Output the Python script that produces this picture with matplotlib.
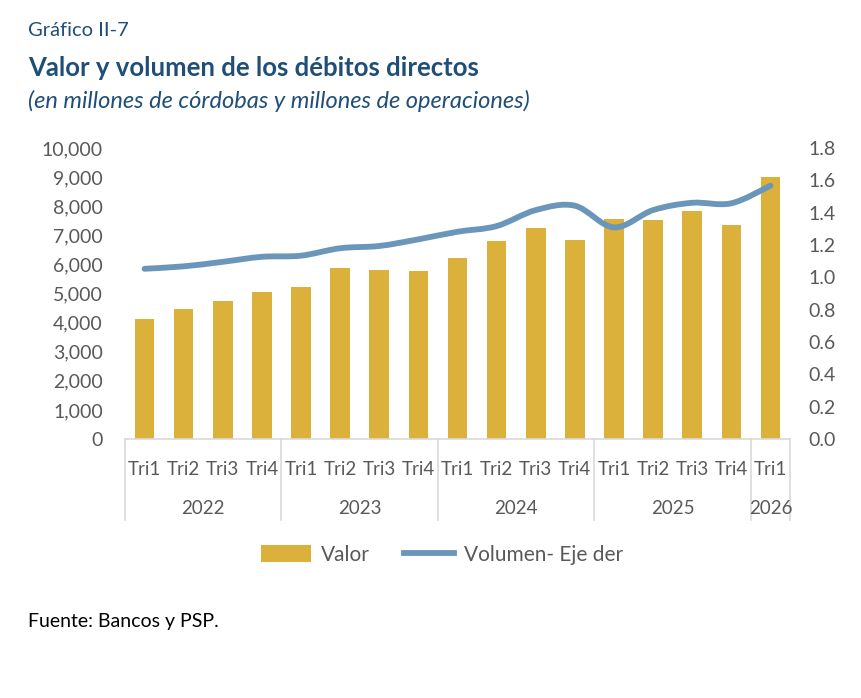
import matplotlib
matplotlib.use("Agg")
import matplotlib.pyplot as plt
from matplotlib.path import Path
from matplotlib.patches import PathPatch, Patch
from matplotlib.lines import Line2D
from matplotlib.ticker import FuncFormatter, FixedLocator
import matplotlib.transforms as mtrans
import numpy as np

plt.rcParams['font.family'] = ['Lato', 'DejaVu Sans']

quarters = ["Tri1", "Tri2", "Tri3", "Tri4"] * 4 + ["Tri1"]
years = ["2022", "2023", "2024", "2025", "2026"]
year_sizes = [4, 4, 4, 4, 1]
valor = [4110, 4480, 4750, 5050, 5210, 5870, 5820, 5770, 6210,
         6810, 7260, 6850, 7560, 7530, 7840, 7340, 9010]
volumen = [1.053, 1.068, 1.096, 1.127, 1.134, 1.180, 1.194, 1.235, 1.282,
           1.317, 1.416, 1.443, 1.309, 1.416, 1.461, 1.458, 1.567]

GOLD = "#DBB13B"
BLUE = "#6A96BA"
TXT = "#595959"
TITLE = "#1F4E79"
GRID = "#D9D9D9"

fig = plt.figure(figsize=(8.62, 6.98), dpi=100)
ax = fig.add_axes([125/862, 1-439/698, 665/862, 291/698])
ax2 = ax.twinx()

x = np.arange(len(valor))
ax.bar(x, valor, width=0.5, color=GOLD, zorder=2)
ax.set_xlim(-0.5, len(valor)-0.5)
ax.set_ylim(0, 10000)
ax.yaxis.set_major_locator(FixedLocator(np.arange(0, 10001, 1000)))
ax.yaxis.set_major_formatter(FuncFormatter(lambda v, p: f"{int(v):,}"))
ax2.set_ylim(0, 1.8)
ax2.yaxis.set_major_locator(FixedLocator(np.arange(0, 1.81, 0.2)))
ax2.yaxis.set_major_formatter(FuncFormatter(lambda v, p: f"{v:.1f}"))

for a in (ax, ax2):
    for s in a.spines.values():
        s.set_visible(False)
ax.spines['bottom'].set_visible(True)
ax.spines['bottom'].set_color(GRID)
ax.spines['bottom'].set_linewidth(1.2)

ax.tick_params(axis='y', length=0, pad=16, labelsize=14, labelcolor=TXT)
ax2.tick_params(axis='y', length=0, pad=13, labelsize=14, labelcolor=TXT)
ax.set_xticks(x)
ax.set_xticklabels(quarters)
ax.tick_params(axis='x', length=0, pad=16, labelsize=13.5, labelcolor=TXT)

# smooth line (Catmull-Rom style bezier as in Excel smoothed lines)
pts = np.column_stack([x, volumen]).astype(float)
verts = [tuple(pts[0])]
codes = [Path.MOVETO]
n = len(pts)
for i in range(n-1):
    p0 = pts[i-1] if i > 0 else pts[i]
    p1 = pts[i]
    p2 = pts[i+1]
    p3 = pts[i+2] if i+2 < n else pts[i+1]
    c1 = p1 + (p2 - p0) / 6.0
    c2 = p2 - (p3 - p1) / 6.0
    verts += [tuple(c1), tuple(c2), tuple(p2)]
    codes += [Path.CURVE4]*3
path = Path(verts, codes)
ax2.add_patch(PathPatch(path, facecolor='none', edgecolor=BLUE, lw=4.2,
                        capstyle='round', joinstyle='round', zorder=3))

# category bracket lines and year labels
trans = mtrans.blended_transform_factory(ax.transData, ax.transAxes)
bounds = np.concatenate([[0], np.cumsum(year_sizes)]) - 0.5
for b in bounds:
    ax.plot([b, b], [0, -81/291], transform=trans, color=GRID, lw=1.2,
            clip_on=False, zorder=1)
for i, yr in enumerate(years):
    c = (bounds[i] + bounds[i+1]) / 2
    ax.text(c, -69/291, yr, transform=trans, ha='center', va='center',
            fontsize=13.5, color=TXT)

# titles
fig.text(28/862, 1-30/698, "Gráfico II-7", fontsize=14.5, color=TITLE,
         va='center', ha='left')
fig.text(28/862, 1-68/698, "Valor y volumen de los débitos directos",
         fontsize=18.5, color=TITLE, fontweight='bold', va='center', ha='left')
fig.text(28/862, 1-101/698, "(en millones de córdobas y millones de operaciones)",
         fontsize=17, color=TITLE, style='italic', va='center', ha='left')
fig.text(28/862, 1-621/698, "Fuente: Bancos y PSP.", fontsize=14,
         color="#000000", va='center', ha='left')

handles = [Patch(facecolor=GOLD, edgecolor='none'),
           Line2D([0], [0], color=BLUE, lw=4.2)]
fig.legend(handles, ["Valor", "Volumen- Eje der"], loc='center',
           bbox_to_anchor=(442/862, 1-555/698), ncol=2, frameon=False,
           fontsize=15, labelcolor=TXT, handlelength=2.4, handleheight=0.9,
           columnspacing=1.6, handletextpad=0.5)

fig.savefig("out.png", dpi=100)
